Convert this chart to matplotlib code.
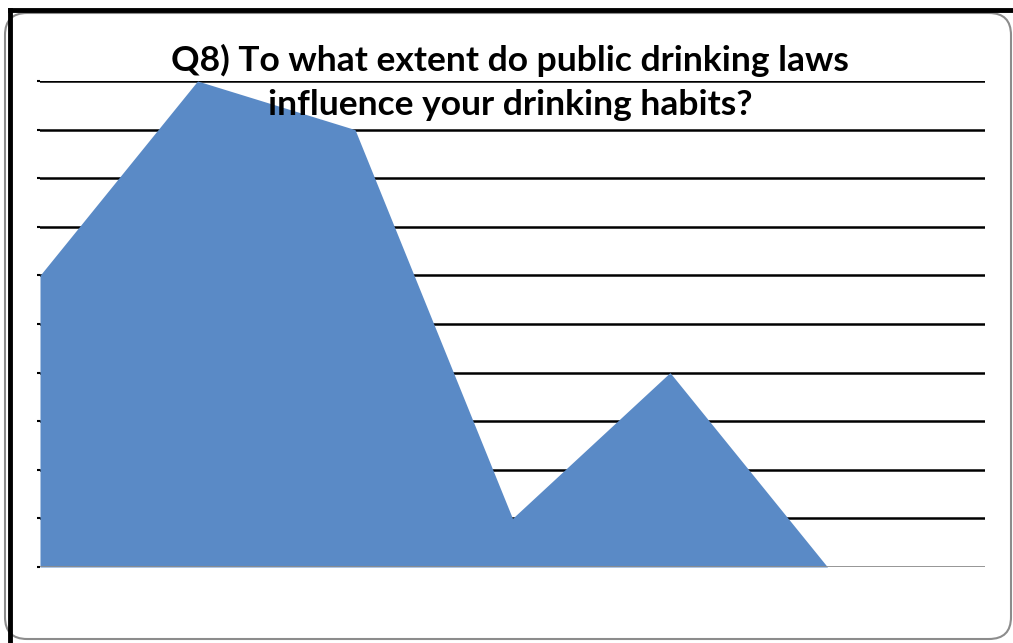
import matplotlib
matplotlib.use("Agg")
import matplotlib.pyplot as plt
from matplotlib.patches import FancyBboxPatch
from matplotlib.lines import Line2D

title = "Q8) To what extent do public drinking laws\ninfluence your drinking habits?"
positions = [0, 1, 2, 3, 4, 5]
values = [6, 10, 9, 1, 4, 0]
n_slots = 6
y_ticks = [0, 1, 2, 3, 4, 5, 6, 7, 8, 9, 10]

W, H = 1013, 643
fig = plt.figure(figsize=(W / 100, H / 100), dpi=100)

# frame overlay in pixel coordinates
bg = fig.add_axes([0, 0, 1, 1])
bg.set_xlim(0, W)
bg.set_ylim(H, 0)
bg.axis("off")
bg.add_patch(FancyBboxPatch((5, 13), 1006, 626, boxstyle="round,pad=0,rounding_size=22",
                            fc="white", ec="#8c8c8c", lw=1.5))
bg.add_line(Line2D([9.5, W], [9.5, 9.5], color="black", lw=3.5))
bg.add_line(Line2D([9.5, 9.5], [9.5, H], color="black", lw=3.5))

left, right = 40 / W, 985 / W
bottom, top = 1 - 567 / H, 1 - 81 / H
ax = fig.add_axes([left, bottom, right - left, top - bottom])
ax.set_facecolor("none")
ax.set_xlim(0, n_slots)
ax.set_ylim(0, 10)
for v in y_ticks[1:]:
    ax.axhline(v, color="black", lw=1.8, zorder=1)
ax.fill_between(positions, values, 0, color="#5a8ac6", lw=0, zorder=2)
ax.axhline(0, color="#8c8c8c", lw=2, zorder=3)
ax.set_yticks(y_ticks)
ax.set_yticklabels([])
ax.set_xticks([])
ax.tick_params(axis="y", length=2.5, width=1.5, color="black", direction="out")
for s in ["top", "right", "bottom", "left"]:
    ax.spines[s].set_visible(False)

fig.text(510 / W, 1 - 82 / H, title, ha="center", va="center", fontsize=25.5,
         fontweight="bold", family=["Lato", "DejaVu Sans"], linespacing=1.46, zorder=10)

fig.savefig("out.png", dpi=100)
